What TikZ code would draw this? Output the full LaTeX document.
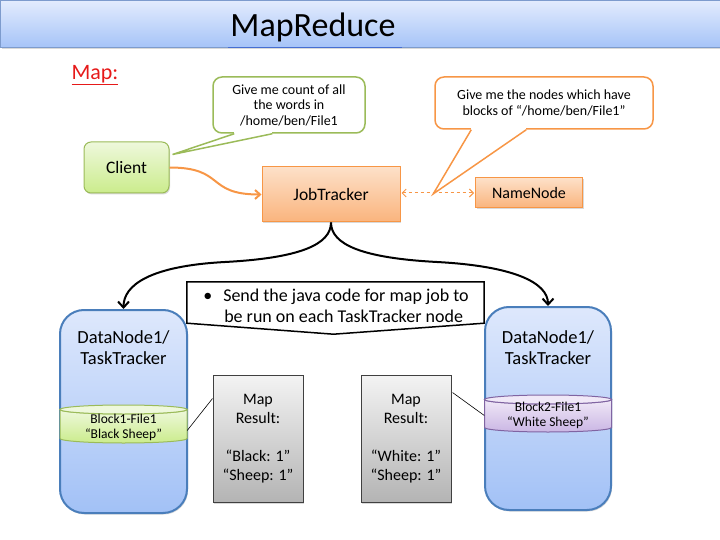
\documentclass[tikz,border=0pt]{standalone}
\usepackage{fontspec}
\setmainfont{Carlito}
\usetikzlibrary{calc,arrows.meta,shadows}

\definecolor{barTop}{RGB}{226,235,253}
\definecolor{barBot}{RGB}{165,195,248}
\definecolor{barLine}{RGB}{125,155,205}
\definecolor{grnTop}{RGB}{238,248,220}
\definecolor{grnBot}{RGB}{203,236,140}
\definecolor{grnLine}{RGB}{155,187,89}
\definecolor{orgTop}{RGB}{253,224,200}
\definecolor{orgBot}{RGB}{250,180,125}
\definecolor{orgLine}{RGB}{247,150,70}
\definecolor{bluTop}{RGB}{222,232,252}
\definecolor{bluBot}{RGB}{162,193,246}
\definecolor{bluLine}{RGB}{74,126,187}
\definecolor{purTop}{RGB}{240,232,247}
\definecolor{purBot}{RGB}{202,182,228}
\definecolor{purLine}{RGB}{128,100,162}
\definecolor{gryTop}{RGB}{243,243,243}
\definecolor{gryBot}{RGB}{180,180,180}
\definecolor{mapRed}{RGB}{230,25,25}
\definecolor{ttlBlue}{RGB}{70,110,210}

\def\fsz#1#2{\fontsize{#1}{#2}\selectfont}
\def\blockcyl(#1:#2:#3)[#4]{%
  \shadedraw[top color=#4Top, bottom color=#4Bot, draw=#4Line, line width=1pt]
    (#1-63.5,#2) -- (#1-63.5,#3) arc[start angle=180, end angle=0, x radius=63.5, y radius=4.5]
    -- (#1+63.5,#2) arc[start angle=0, end angle=180, x radius=63.5, y radius=4.5] -- cycle;
  \filldraw[fill=#4Top, draw=#4Line, line width=1pt] (#1,#2) ellipse[x radius=63.5, y radius=4.5];}

\tikzset{
  softshadow/.style={drop shadow={shadow xshift=1pt, shadow yshift=-1.5pt, opacity=0.3}},
  clientbox/.style={draw=grnLine, line width=1pt, rounded corners=7pt, top color=grnTop, bottom color=grnBot,
    minimum width=85pt, minimum height=51pt, font=\fsz{17.5}{20}, softshadow},
  jobbox/.style={draw=orgLine, line width=1pt, top color=orgTop, bottom color=orgBot,
    minimum width=138pt, minimum height=55pt, font=\fsz{17.5}{20}, softshadow},
  namebox/.style={jobbox, minimum width=107pt, minimum height=30pt, font=\fsz{16}{18}},
  askbox/.style={line width=1.5pt, rounded corners=9pt, fill=white, align=center, font=\fsz{14}{15.5}},
  databox/.style={draw=bluLine, line width=2pt, rounded corners=24pt, top color=bluTop, bottom color=bluBot,
    minimum width=127pt, minimum height=203pt, softshadow},
  dntext/.style={align=center, font=\fsz{18.5}{21}},
  blocktext/.style={align=center, font=\fsz{13.5}{15}, minimum width=127pt, inner sep=0pt},
  resultbox/.style={draw=black!75, line width=1pt, top color=gryTop, bottom color=gryBot, align=center,
    minimum width=90pt, minimum height=127pt, font=\fsz{16}{19}, softshadow},
  brace/.style={line width=2pt, -{Straight Barb[length=6pt, width=11pt]}},
  link/.style={line width=0.6pt}
}

\begin{document}
\begin{tikzpicture}[x=1pt, y=-1pt]
%%%%% START %%%%%
\useasboundingbox (0,0) rectangle (720,540);

% title bar
\shadedraw[top color=barTop, bottom color=barBot, draw=barLine, line width=1pt, softshadow] (0.5,1) rectangle (725,48);
\node[font=\fsz{34}{40}] (title) at (313,27) {MapReduce};
\draw[ttlBlue, line width=1pt] (228,48) -- (402,48);
\node[font=\fsz{22}{26}, text=mapRed, anchor=base west] (maplbl) at (68,79.5) {\underline{Map:}};

% client and job tracker
\node[clientbox] (client) at (126.5,167.5) {Client};
\node[jobbox] (jt) at (331,194.5) {JobTracker};
\node[namebox] (nn) at (529,193) {NameNode};
\coordinate (nntip) at ($(jt.east)!0.44!(nn.west)$);

\draw[orgLine, line width=2pt, -{Straight Barb[length=5pt, width=9pt]}] (client.east) to[out=0, in=180, looseness=1.5] (jt.west);
\draw[orgLine, line width=1pt, dashed, shorten <=1pt, shorten >=1pt,
  {Straight Barb[length=4pt, width=8pt]}-{Straight Barb[length=4pt, width=8pt]}] (jt.east |- nn.west) -- (nn.west);

% callouts
\node[askbox, draw=grnLine, minimum width=152pt, minimum height=56pt] (askc) at (289,105)
  {Give me count of all\\the words in\\/home/ben/File1};
\fill[white] ($(askc.south west)+(22,-2)$) rectangle ($(askc.south west)+(60,2)$);
\draw[grnLine, line width=1.5pt] ($(askc.south west)+(22,0)$) -- ($(client.north east)+(3,13)$) -- ($(askc.south west)+(60,0)$);

\node[askbox, draw=orgLine, minimum width=218pt, minimum height=52pt] (askn) at (544,103)
  {Give me the nodes which have\\blocks of “/home/ben/File1”};
\fill[white] ($(askn.south west)+(37,-2)$) rectangle ($(askn.south west)+(92,2)$);
\draw[orgLine, line width=1.5pt] ($(askn.south west)+(37,0)$) -- (nntip) -- ($(askn.south west)+(92,0)$);

% data nodes
\node[databox] (dn1) at (123.5,411.5) {};
\node[dntext] (dn1t) at (123.5,347.5) {DataNode1/\\TaskTracker};
\node[databox, minimum width=126pt] (dn2) at (548,408.5) {};
\node[dntext] (dn2t) at (548,347.5) {DataNode1/\\TaskTracker};

\blockcyl(123.5:409.5:438.5)[grn];
\node[blocktext] (blk1) at (123.5,427.5) {Block1-File1\\“Black Sheep”};
\blockcyl(548:399.5:427.5)[pur];
\node[blocktext] (blk2) at (548,415.5) {Block2-File1\\“White Sheep”};

% send callout
\node[minimum width=297pt, minimum height=41pt] (send) at (335.5,302.5) {};
\node[align=left, font=\fsz{18}{21}] (sendt) at (336,305.5)
  {\makebox[20pt][l]{•}Send the java code for map job to\\\hspace*{21pt}be run on each TaskTracker node};
\draw[line width=1.5pt] (send.north west) -- (send.north east) -- (send.south east)
  -- ($(send.south)+(-2,11)$) -- (send.south west) -- cycle;

% brace to data nodes
\coordinate (bl) at (225,262);
\coordinate (br) at (437,262);
\draw[brace] (jt.south) .. controls +(0,22) and +(75,-4) .. (bl) .. controls +(-75,4) and +(0,-24) .. (dn1.north);
\draw[brace] (jt.south) .. controls +(0,22) and +(-75,-4) .. (br) .. controls +(75,4) and +(0,-24) .. (dn2.north);

% map results
\node[resultbox] (res1) at (258,438.5) {Map\\Result:\\[19pt]“Black: 1”\\“Sheep: 1”};
\node[resultbox] (res2) at (406,438.5) {Map\\Result:\\[19pt]“White: 1”\\“Sheep: 1”};
\draw[link] ($(blk1.east)+(0,3)$) -- ($(res1.north west)+(0,24)$);
\draw[link] ($(res2.north east)+(1,18)$) -- (blk2.west);
%%%%% END %%%%%
\end{tikzpicture}
\end{document}
